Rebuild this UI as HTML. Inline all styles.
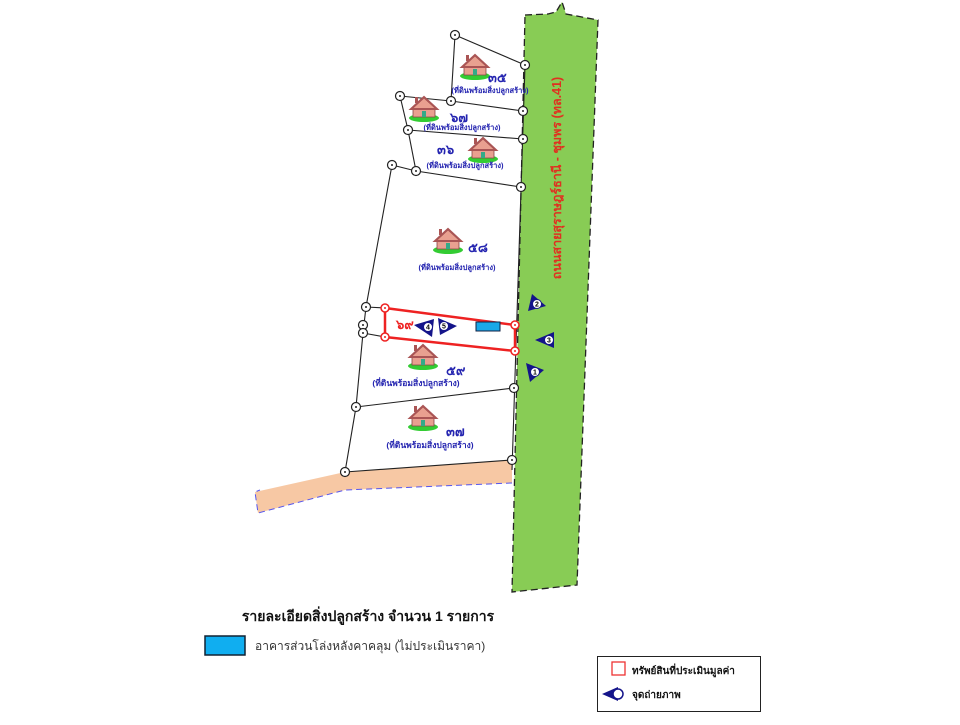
<!DOCTYPE html>
<html><head><meta charset="utf-8"><style>
body{margin:0;background:#fff;width:960px;height:720px;overflow:hidden}
svg text{font-family:"Liberation Sans","Noto Sans CJK SC",sans-serif}
</style></head><body>
<svg width="960" height="720" viewBox="0 0 960 720">
<defs>
<g id="house">
<ellipse cx="0" cy="8" rx="15" ry="4" fill="#3c3"/>
<polygon points="-11,-2 0,-12 11,-2 11,7 -11,7" fill="#e9a090" stroke="#844" stroke-width="0.8"/>
<polygon points="-13,-1 0,-13 13,-1" fill="none" stroke="#a55" stroke-width="2"/>
<rect x="-2" y="1" width="4" height="6" fill="#3a8"/>
<rect x="-9" y="-13" width="3" height="6" fill="#a55"/>
</g>
<g id="node"><circle r="4.5" fill="#fff" stroke="#222" stroke-width="1.2"/><circle r="1" fill="#222"/></g>
<g id="rnode"><circle r="4" fill="#fff" stroke="#e22" stroke-width="1.5"/><circle r="1" fill="#e22"/></g>
</defs>
<polygon points="255,492 345,472 512,460 512,483 345,490 258,513" fill="#f7c8a4"/>
<polyline points="512,483 345,490 258,513 255,492 260,490" fill="none" stroke="#55e" stroke-width="1" stroke-dasharray="6,4"/>
<polygon points="525,15 548,14 556,12 562,2 566,14 598,20 577,585 512,592" fill="#88cc55" stroke="#222" stroke-width="1.3" stroke-dasharray="7,4"/>
<text transform="translate(561,178) rotate(-90)" text-anchor="middle" font-size="12.5" font-weight="bold" fill="#e03020">ถนนสายสุราษฎร์ธานี - ชุมพร (ทล.41)</text>
<g stroke="#222" stroke-width="1.1" fill="none">
<polyline points="455,35 525,65"/>
<polyline points="455,35 451,101"/>
<polyline points="400,96 451,101 523,111"/>
<polyline points="400,96 408,130 416,171"/>
<polyline points="408,130 523,139"/>
<polyline points="392,165 416,171 521,187"/>
<polyline points="392,165 366,307 363,333 356,407 345,472"/>
<polyline points="366,307 385,308"/>
<polyline points="363,333 385,337"/>
<polyline points="356,407 514,388"/>
<polyline points="345,472 512,460"/>
<polyline points="525,65 512,470"/>
</g>
<polygon points="385,308 515,325 515,351 385,337" fill="none" stroke="#e22" stroke-width="2.5"/>
<rect x="476" y="322" width="24" height="9" fill="#1aa8e8" stroke="#124" stroke-width="1"/>
<g>
<use href="#node" x="455" y="35"/><use href="#node" x="525" y="65"/>
<use href="#node" x="400" y="96"/><use href="#node" x="451" y="101"/><use href="#node" x="523" y="111"/>
<use href="#node" x="408" y="130"/><use href="#node" x="523" y="139"/>
<use href="#node" x="392" y="165"/><use href="#node" x="416" y="171"/><use href="#node" x="521" y="187"/>
<use href="#node" x="366" y="307"/><use href="#node" x="363" y="325"/><use href="#node" x="363" y="333"/>
<use href="#node" x="514" y="388"/><use href="#node" x="356" y="407"/>
<use href="#node" x="512" y="460"/><use href="#node" x="345" y="472"/>
<use href="#rnode" x="385" y="308"/><use href="#rnode" x="515" y="325"/><use href="#rnode" x="385" y="337"/><use href="#rnode" x="515" y="351"/>
</g>
<use href="#house" x="475" y="68"/><use href="#house" x="424" y="110"/><use href="#house" x="483" y="151"/>
<use href="#house" x="448" y="242"/><use href="#house" x="423" y="358"/><use href="#house" x="423" y="419"/>
<g font-weight="bold" fill="#2424b0">
<text x="488" y="82" font-size="13">๓๕</text>
<text x="450" y="122" font-size="13">๖๗</text>
<text x="437" y="154" font-size="13">๓๖</text>
<text x="468" y="252" font-size="13">๕๘</text>
<text x="446" y="375" font-size="13">๕๙</text>
<text x="446" y="436" font-size="13">๓๗</text>
<text x="396" y="329" font-size="13" fill="#e22">๖๙</text>
<g font-size="7.5" text-anchor="middle">
<text x="490" y="93">(ที่ดินพร้อมสิ่งปลูกสร้าง)</text>
<text x="462" y="130">(ที่ดินพร้อมสิ่งปลูกสร้าง)</text>
<text x="465" y="168">(ที่ดินพร้อมสิ่งปลูกสร้าง)</text>
<text x="457" y="270">(ที่ดินพร้อมสิ่งปลูกสร้าง)</text>
</g>
<g font-size="8.5" text-anchor="middle">
<text x="416" y="386">(ที่ดินพร้อมสิ่งปลูกสร้าง)</text>
<text x="430" y="448">(ที่ดินพร้อมสิ่งปลูกสร้าง)</text>
</g>
</g>
<g font-size="7" font-weight="bold" text-anchor="middle">
<g transform="translate(537,304)"><polygon points="-9,7 9,2 -5,-10" fill="#14148a"/><circle r="4.5" fill="#fff" stroke="#14148a"/><text y="2.5">2</text></g>
<g transform="translate(548,340)"><polygon points="-13,0 6,-8 6,8" fill="#14148a"/><circle cx="1" r="4.5" fill="#fff" stroke="#14148a"/><text x="1" y="2.5">3</text></g>
<g transform="translate(535,372)"><polygon points="-9,-9 9,-2 -5,10" fill="#14148a"/><circle r="4.5" fill="#fff" stroke="#14148a"/><text y="2.5">1</text></g>
<g transform="translate(428,327)"><polygon points="-14,-2 6,-8 4,10" fill="#14148a"/><circle r="4.5" fill="#fff" stroke="#14148a"/><text y="2.5">4</text></g>
<g transform="translate(444,326)"><polygon points="-6,-8 13,0 -4,9" fill="#14148a"/><circle r="4.5" fill="#fff" stroke="#14148a"/><text y="2.5">5</text></g>
</g>
<text x="368" y="621" font-size="14" font-weight="bold" text-anchor="middle" fill="#111">รายละเอียดสิ่งปลูกสร้าง จำนวน 1 รายการ</text>
<rect x="205" y="636" width="40" height="19" fill="#10aef0" stroke="#123" stroke-width="1.5"/>
<text x="255" y="650" font-size="12" fill="#333">อาคารส่วนโล่งหลังคาคลุม (ไม่ประเมินราคา)</text>
<rect x="597.5" y="656.5" width="163" height="55" fill="#fff" stroke="#222" stroke-width="1"/>
<rect x="612" y="662" width="13" height="13" fill="#fff" stroke="#e33" stroke-width="1.3"/>
<text x="632" y="674" font-size="10" font-weight="bold" fill="#111">ทรัพย์สินที่ประเมินมูลค่า</text>
<polygon points="602,694 618,687 618,701" fill="#14148a"/><circle cx="618" cy="694" r="5" fill="#fff" stroke="#14148a" stroke-width="1.5"/>
<text x="632" y="698" font-size="10" font-weight="bold" fill="#111">จุดถ่ายภาพ</text>
</svg>
</body></html>
